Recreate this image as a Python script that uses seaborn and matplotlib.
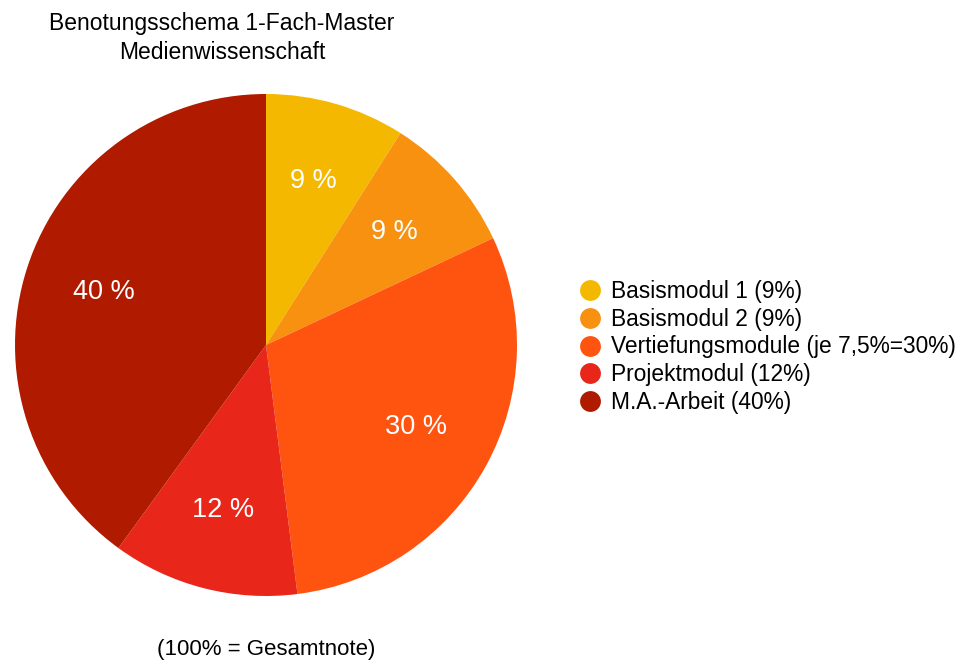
import matplotlib
matplotlib.use("Agg")
import matplotlib.pyplot as plt
from matplotlib.lines import Line2D
import seaborn as sns

labels = ["Basismodul 1 (9%)", "Basismodul 2 (9%)", "Vertiefungsmodule (je 7,5%=30%)",
          "Projektmodul (12%)", "M.A.-Arbeit (40%)"]
values = [9, 9, 30, 12, 40]
slice_text = ["9 %", "9 %", "30 %", "12 %", "40 %"]
colors = ["#F5B800", "#F7910F", "#FE5410", "#E8261A", "#B01B00"]

sns.set_theme(style="white")
plt.rcParams['font.family'] = ['Liberation Sans', 'DejaVu Sans']
palette = sns.color_palette(colors)

fig = plt.figure(figsize=(9.67, 6.64), dpi=100)
W, H = 967, 664
cx, cy, r = 266, 345, 251
ax = fig.add_axes([(cx - r) / W, 1 - (cy + r) / H, 2 * r / W, 2 * r / H])
wedges, texts = ax.pie(values, colors=palette, startangle=90, counterclock=False,
                       labels=slice_text, labeldistance=0.68,
                       wedgeprops=dict(linewidth=0),
                       textprops=dict(color="white", fontsize=19.5))
for t in texts:
    t.set_ha("center")
    t.set_va("center")
ax.set_xlim(-1, 1)
ax.set_ylim(-1, 1)
ax.set_aspect("equal")
ax.axis("off")

fig.text(222 / W, 1 - 38 / H, "Benotungsschema 1-Fach-Master\nMedienwissenschaft",
         ha="center", va="center", fontsize=16.5, linespacing=1.35, color="black")
fig.text(266 / W, 1 - 650 / H, "(100% = Gesamtnote)", ha="center", va="center",
         fontsize=16, color="black")

handles = [Line2D([0], [0], marker="o", linestyle="", markersize=15,
                  markerfacecolor=c, markeredgewidth=0) for c in palette]
leg = fig.legend(handles, labels, loc="center left", bbox_to_anchor=(567 / W, 1 - 347 / H),
                 frameon=False, fontsize=16.4, handletextpad=0.45, labelspacing=0.2,
                 borderpad=0, handlelength=1.0)
for t in leg.get_texts():
    t.set_color("black")

fig.savefig("out.png", dpi=100)
